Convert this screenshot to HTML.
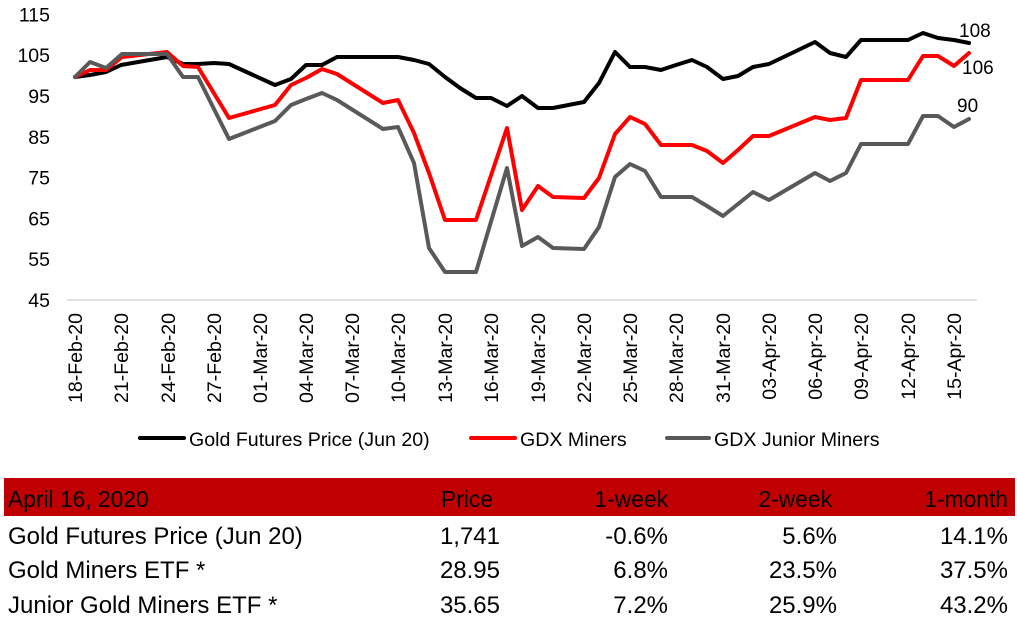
<!DOCTYPE html>
<html>
<head>
<meta charset="utf-8">
<style>
  html, body { margin: 0; padding: 0; background: #fff; }
  body { width: 1017px; height: 621px; overflow: hidden; position: relative; font-family: "Liberation Sans", Arial, sans-serif; }
  svg { position: absolute; left: 0; top: 0; }
</style>
</head>
<body>
<svg width="1017" height="621" viewBox="0 0 1017 621" xmlns="http://www.w3.org/2000/svg" font-family="Liberation Sans, Arial, sans-serif">
  <rect width="1017" height="621" fill="#fff"/>
  <!-- y axis labels -->
  <g font-size="19.5" fill="#000" text-anchor="end">
    <text x="50" y="21.4">115</text>
    <text x="50" y="62.2">105</text>
    <text x="50" y="103">95</text>
    <text x="50" y="143.8">85</text>
    <text x="50" y="184.6">75</text>
    <text x="50" y="225.4">65</text>
    <text x="50" y="266.2">55</text>
    <text x="50" y="307">45</text>
  </g>
  <!-- axis line -->
  <line x1="67" y1="300" x2="977" y2="300" stroke="#d9d9d9" stroke-width="1.5"/>
  <!-- x labels -->
  <g font-size="19.5" fill="#000" text-anchor="end">
    <text transform="translate(82,313) rotate(-90)">18-Feb-20</text>
    <text transform="translate(128,313) rotate(-90)">21-Feb-20</text>
    <text transform="translate(175,313) rotate(-90)">24-Feb-20</text>
    <text transform="translate(221,313) rotate(-90)">27-Feb-20</text>
    <text transform="translate(267,313) rotate(-90)">01-Mar-20</text>
    <text transform="translate(313,313) rotate(-90)">04-Mar-20</text>
    <text transform="translate(359,313) rotate(-90)">07-Mar-20</text>
    <text transform="translate(405,313) rotate(-90)">10-Mar-20</text>
    <text transform="translate(452,313) rotate(-90)">13-Mar-20</text>
    <text transform="translate(498,313) rotate(-90)">16-Mar-20</text>
    <text transform="translate(545,313) rotate(-90)">19-Mar-20</text>
    <text transform="translate(591,313) rotate(-90)">22-Mar-20</text>
    <text transform="translate(637,313) rotate(-90)">25-Mar-20</text>
    <text transform="translate(683,313) rotate(-90)">28-Mar-20</text>
    <text transform="translate(730,313) rotate(-90)">31-Mar-20</text>
    <text transform="translate(776,313) rotate(-90)">03-Apr-20</text>
    <text transform="translate(822,313) rotate(-90)">06-Apr-20</text>
    <text transform="translate(868,313) rotate(-90)">09-Apr-20</text>
    <text transform="translate(915,313) rotate(-90)">12-Apr-20</text>
    <text transform="translate(961,313) rotate(-90)">15-Apr-20</text>
  </g>
  <!-- series -->
  <g fill="none" stroke-width="4" stroke-linejoin="round" stroke-linecap="round">
    <polyline stroke="#000000" points="75,77 90,75 106,72 121,65 167,57 183,64 198,64 214,63 229,64 275,85 291,79 306,65 322,65 337,57 398,57 414,60 429,64 445,77 460,88 476,98 491,98 507,106 522,96 538,108 553,108 584,102 599,83 615,52 630,67 645,67 661,70 676,65 692,60 707,67 723,79 738,76 753,67 769,64 815,42 830,53 846,57 861,40 908,40 923,33 938,38 954,40 969,43"/>
    <polyline stroke="#ff0000" points="75,77 90,70 106,70 122,57 167,52 183,66 198,67 229,118 275,105 291,85 306,78 322,69 337,74 383,103 398,100 414,133 429,173 445,220 476,220 507,128 522,210 538,186 553,197 584,198 599,178 615,134 630,117 645,124 661,145 692,145 707,151 723,163 738,150 753,136 769,136 815,117 830,120 846,118 861,80 908,80 923,56 938,56 954,66 969,53"/>
    <polyline stroke="#595959" points="75,77 90,62 106,68 122,54 167,54 183,77 198,77 229,139 275,121 291,105 306,99 322,93 337,100 383,129 398,127 414,163 429,248 445,272 476,272 507,168 522,246 538,237 553,248 584,249 599,227 615,177 630,164 645,171 661,197 692,197 707,206 723,216 738,204 753,192 769,200 815,173 830,181 846,173 861,144 908,144 923,116 938,116 954,127 969,119"/>
  </g>
  <!-- data labels -->
  <g font-size="19" fill="#000">
    <text x="959" y="37">108</text>
    <text x="962" y="74">106</text>
    <text x="957" y="112">90</text>
  </g>
  <!-- legend -->
  <g stroke-width="4" stroke-linecap="round">
    <line x1="140" y1="438" x2="184" y2="438" stroke="#000"/>
    <line x1="471" y1="438" x2="515" y2="438" stroke="#ff0000"/>
    <line x1="667" y1="438" x2="709" y2="438" stroke="#595959"/>
  </g>
  <g font-size="19.6" fill="#000">
    <text x="189" y="446">Gold Futures Price (Jun 20)</text>
    <text x="520" y="446">GDX Miners</text>
    <text x="714" y="446">GDX Junior Miners</text>
  </g>
  <!-- table -->
  <rect x="4" y="478" width="1011" height="38" fill="#c00000"/>
  <g font-size="22.8" fill="#000">
    <text x="8" y="507">April 16, 2020</text>
    <text x="493" y="507" text-anchor="end">Price</text>
    <text x="668" y="507" text-anchor="end">1-week</text>
    <text x="832" y="507" text-anchor="end">2-week</text>
    <text x="1008" y="507" text-anchor="end">1-month</text>
  </g>
  <g font-size="24" fill="#000">
    <text x="8" y="544">Gold Futures Price (Jun 20)</text>
    <text x="500" y="544" text-anchor="end">1,741</text>
    <text x="668" y="544" text-anchor="end">-0.6%</text>
    <text x="837" y="544" text-anchor="end">5.6%</text>
    <text x="1008" y="544" text-anchor="end">14.1%</text>

    <text x="8" y="578">Gold Miners ETF *</text>
    <text x="500" y="578" text-anchor="end">28.95</text>
    <text x="668" y="578" text-anchor="end">6.8%</text>
    <text x="837" y="578" text-anchor="end">23.5%</text>
    <text x="1008" y="578" text-anchor="end">37.5%</text>

    <text x="8" y="613">Junior Gold Miners ETF *</text>
    <text x="500" y="613" text-anchor="end">35.65</text>
    <text x="668" y="613" text-anchor="end">7.2%</text>
    <text x="837" y="613" text-anchor="end">25.9%</text>
    <text x="1008" y="613" text-anchor="end">43.2%</text>
  </g>
</svg>
</body>
</html>
